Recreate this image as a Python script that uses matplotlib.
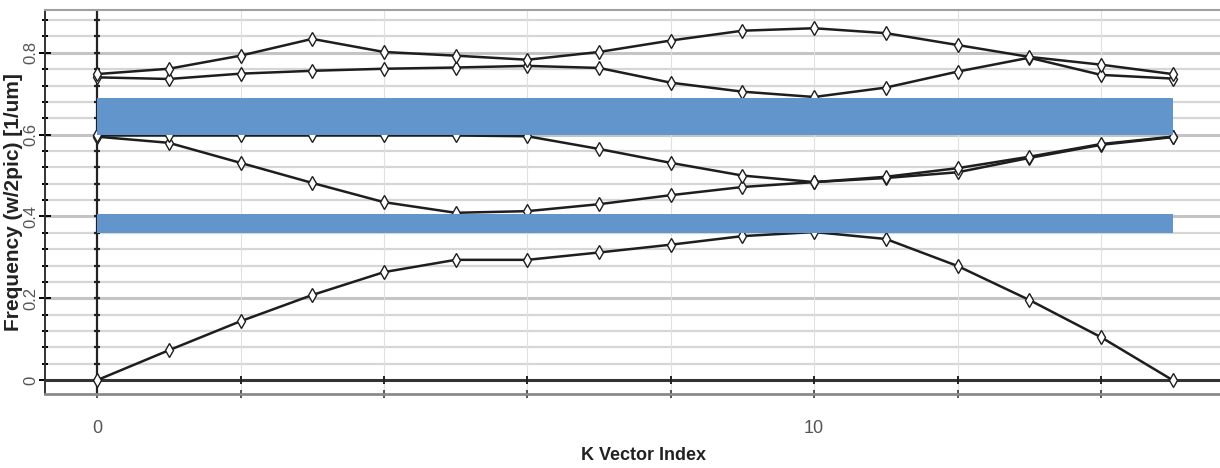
import numpy as np
import matplotlib.pyplot as plt

plt.rcParams['font.family'] = ['Liberation Sans', 'DejaVu Sans']

# band structure, 16 k-points
k = np.arange(16)
band1 = [0.0, 0.073, 0.144, 0.208, 0.264, 0.294, 0.294, 0.312, 0.331, 0.352,
         0.362, 0.345, 0.279, 0.196, 0.105, 0.0]
band2 = [0.595, 0.58, 0.531, 0.482, 0.435, 0.409, 0.413, 0.43, 0.452, 0.472,
         0.484, 0.494, 0.508, 0.543, 0.575, 0.594]
band3 = [0.598, 0.598, 0.598, 0.598, 0.598, 0.598, 0.596, 0.565, 0.531, 0.500,
         0.484, 0.497, 0.518, 0.546, 0.577, 0.595]
band4 = [0.740, 0.736, 0.749, 0.756, 0.761, 0.764, 0.768, 0.763, 0.727, 0.705,
         0.692, 0.715, 0.754, 0.788, 0.746, 0.737]
band5 = [0.748, 0.761, 0.793, 0.834, 0.802, 0.793, 0.783, 0.802, 0.830, 0.854,
         0.860, 0.848, 0.819, 0.790, 0.771, 0.748]
bands = [band1, band2, band3, band4, band5]

# band gaps (lower, upper edge)
gap_lo = [0.600, 0.360]
gap_hi = [0.690, 0.405]
gap_k = [0, 15]

fig = plt.figure(figsize=(12.2, 4.68), dpi=100)
ax = fig.add_axes([0.037, 0.158, 0.963, 0.821])
ax.set_xlim(-0.725, 15.66)
ax.set_ylim(-0.034, 0.905)

# grid
for y in np.arange(0.04, 0.9, 0.04):
    major = abs(y / 0.2 - round(y / 0.2)) < 1e-6
    ax.axhline(y, color='#c4c4c4' if major else '#d6d6d6', lw=2.2 if major else 1.6, zorder=0)
for x in range(2, 16, 2):
    ax.axvline(x, color='#e0e0e0', lw=0.8, zorder=0)

# zero lines with small tick marks
ax.axvline(0, color='#222222', lw=1.6, zorder=2)
ax.axhline(0, color='#333333', lw=2.2, zorder=2)
ax.plot(np.zeros(23), np.arange(0, 0.9, 0.04), ls='none', marker='_', ms=5,
        mew=1.6, color='#222222', zorder=2)
ax.plot(np.arange(2, 16, 2), np.zeros(7), ls='none', marker='|', ms=6,
        mew=1.4, color='#222222', zorder=2)

for b in bands:
    ax.plot(k, b, color='#1e1e1e', lw=1.8, marker='d', ms=7, mfc='white',
            mec='#1e1e1e', mew=1.0, zorder=3)

for lo, hi in zip(gap_lo, gap_hi):
    ax.fill_between(gap_k, [lo, lo], [hi, hi], color='#6395cd', lw=0, zorder=4)

# spines
ax.spines['right'].set_visible(False)
ax.spines['top'].set_color('#a0a0a0')
ax.spines['top'].set_linewidth(1.5)
ax.spines['left'].set_color('#333333')
ax.spines['left'].set_linewidth(1.4)
ax.spines['bottom'].set_color('#8a8a8a')
ax.spines['bottom'].set_linewidth(2)

ax.set_yticks([0, 0.2, 0.4, 0.6, 0.8])
ax.set_yticklabels(['0', '0.2', '0.4', '0.6', '0.8'], rotation=90, va='center',
                   color='#555555', fontsize=12)
ax.set_yticks(np.arange(0, 0.9, 0.04), minor=True)
ax.tick_params(axis='y', which='major', direction='inout', length=8, width=1.4, pad=1)
ax.tick_params(axis='y', which='minor', direction='inout', length=5, width=1.4)

ax.set_xticks(range(0, 16, 2))
ax.set_xticklabels(['0', '', '', '', '', '10', '', ''], color='#555555', fontsize=13,
                   family=['Liberation Sans Narrow', 'Liberation Sans'])
ax.tick_params(axis='x', which='major', direction='inout', length=6, width=1.4,
               pad=16, colors='#555555')

ax.set_xlabel('K Vector Index', fontsize=13, fontweight='bold', va='center',
              family=['Liberation Sans Narrow', 'Liberation Sans'], color='#222222')
ax.xaxis.set_label_coords(0.509, -0.159)
ax.set_ylabel('Frequency (w/2pic) [1/um]', fontsize=15, fontweight='bold',
              va='center', color='#222222')
ax.yaxis.set_label_coords(-0.027, 0.5)

fig.savefig('out.png', dpi=100)
